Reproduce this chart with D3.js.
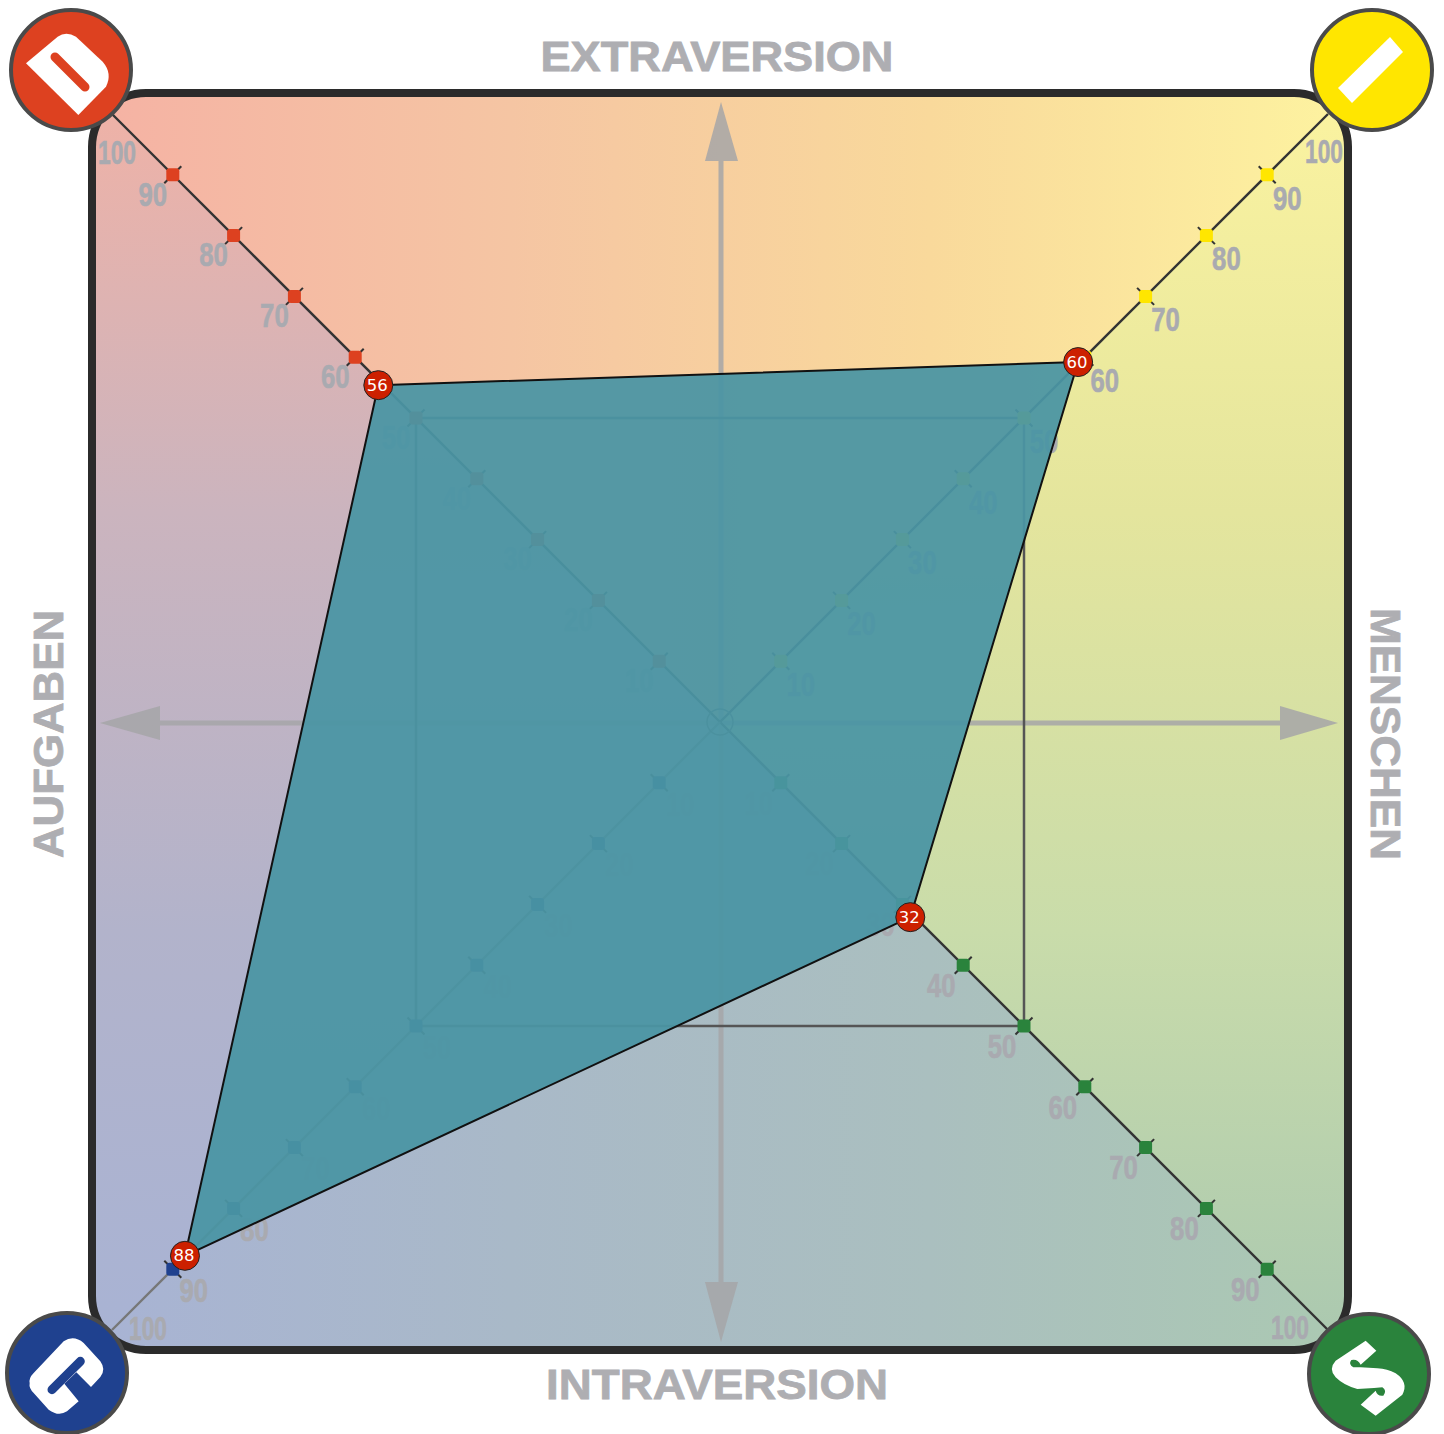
<!DOCTYPE html>
<html>
<head>
<meta charset="utf-8">
<title>Persönlichkeitsprofil</title>
<script src="https://cdn.jsdelivr.net/npm/d3@7"></script>
<style>
    html, body { margin: 0; padding: 0; background: #fff; }
    svg { display: block; }
</style>
</head>
<body>
<div id="chart"></div>
<script>
// the four corner axes
let axes = ["D", "I", "S", "G"]
let axisColors = ["#dd4120", "#ffe600", "#2a833c", "#1f418f"]
let axisLineColors = ["#333", "#333", "#333", "#777"]

// values, the points sit a bit off the diagonals
// so there is one reading per direction
let scoreValuesX = [56.2, 58.9, 31.3, 88]
let scoreValuesY = [55.4, 59.2, 32.1, 87.8]
let scoreLabels = ["56", "60", "32", "88"]

let tickValues = [10, 20, 30, 40, 50, 60, 70, 80, 90]
let tickLabels = [10, 20, 30, 40, 50, 60, 70, 80, 90, 100]
let boxValue = 50

let sideLabels = ["EXTRAVERSION", "MENSCHEN", "INTRAVERSION", "AUFGABEN"]

let width = 1444
let height = 1434
let cx = 720
let cy = 722

// direction of every axis from the centre
let dirs = { D: [-1, -1], I: [1, -1], S: [1, 1], G: [-1, 1] }
// where the tick label sits compared to its tick
let labelOffset = { D: [-20, 19], I: [20, 23], S: [-22, 20], G: [21, 21] }
let lastLabelOffset = { D: [5, 38], I: [-4, 37], S: [-38, -3], G: [36, -2] }

let r = d3.scaleLinear().domain([0, 100]).range([0, 608])
let px = (axis, v) => cx + dirs[axis][0] * r(v)
let py = (axis, v) => cy + dirs[axis][1] * r(v)

let svg = d3.select("#chart").append("svg")
    .attr("width", width)
    .attr("height", height)

let defs = svg.append("defs")

// frame
let frame = { x: 92, y: 93, w: 1256, h: 1257, rx: 54 }

let addGradient = (id, vertical, stops) => {
    let g = defs.append("linearGradient")
        .attr("id", id)
        .attr("gradientUnits", "userSpaceOnUse")
        .attr("x1", frame.x)
        .attr("y1", frame.y)
        .attr("x2", vertical ? frame.x : frame.x + frame.w)
        .attr("y2", vertical ? frame.y + frame.h : frame.y)
    stops.forEach((c, i) => {
        g.append("stop")
            .attr("offset", i / (stops.length - 1))
            .attr("stop-color", c)
    })
}

addGradient("gradTop", false, ["#f5b2a4", "#f5c5a3", "#f9d99b", "#fdf3a0"])
addGradient("gradRight", true, ["#fbf3a0", "#e4e59d", "#c9dcaa", "#aac8b0"])
addGradient("gradBottom", false, ["#a8b3d4", "#a9b9c8", "#aabfbf", "#abc9b2"])
addGradient("gradLeft", true, ["#f0b2a6", "#cbb4be", "#b2b3cb", "#a8b3d4"])

defs.append("clipPath").attr("id", "frameClip")
    .append("rect")
    .attr("x", frame.x).attr("y", frame.y)
    .attr("width", frame.w).attr("height", frame.h)
    .attr("rx", frame.rx)

let bg = svg.append("g").attr("clip-path", "url(#frameClip)")
let x0 = frame.x, x1 = frame.x + frame.w, y0 = frame.y, y1 = frame.y + frame.h
let triangles = [
    ["gradTop", [[x0, y0], [x1, y0], [cx, cy]]],
    ["gradRight", [[x1, y0], [x1, y1], [cx, cy]]],
    ["gradBottom", [[x1, y1], [x0, y1], [cx, cy]]],
    ["gradLeft", [[x0, y1], [x0, y0], [cx, cy]]]
]
bg.selectAll("polygon")
    .data(triangles)
    .enter()
    .append("polygon")
    .attr("points", d => d[1].join(" "))
    .attr("fill", d => "url(#" + d[0] + ")")
    .attr("stroke", d => "url(#" + d[0] + ")")
    .attr("stroke-width", 1)

// grey arrows
let arrowColor = "#a6a6a8"
let arrows = svg.append("g").attr("opacity", 0.85)
arrows.append("line").attr("x1", cx + 1).attr("x2", cx + 1).attr("y1", 158).attr("y2", 1284)
    .attr("stroke", arrowColor).attr("stroke-width", 5)
arrows.append("line").attr("x1", 158).attr("x2", 1282).attr("y1", cy + 1).attr("y2", cy + 1)
    .attr("stroke", arrowColor).attr("stroke-width", 5)
let heads = [
    [[721, 102], [705, 161], [738, 161]],
    [[721, 1342], [705, 1282], [738, 1282]],
    [[100, 723], [160, 706], [160, 740]],
    [[1338, 723], [1280, 706], [1280, 740]]
]
arrows.selectAll("polygon")
    .data(heads)
    .enter()
    .append("polygon")
    .attr("points", d => d.join(" "))
    .attr("fill", arrowColor)

// the 50 box
svg.append("rect")
    .attr("x", cx - r(boxValue))
    .attr("y", cy - r(boxValue))
    .attr("width", r(boxValue) * 2)
    .attr("height", r(boxValue) * 2)
    .attr("fill", "none")
    .attr("stroke", "#555")
    .attr("stroke-width", 2.5)

// axes with ticks and labels
axes.forEach((axis, i) => {
    let g = svg.append("g").attr("class", "axis-" + axis)
    g.append("line")
        .attr("x1", cx).attr("y1", cy)
        .attr("x2", px(axis, 100)).attr("y2", py(axis, 100))
        .attr("stroke", axisLineColors[i])
        .attr("stroke-width", 2.4)

    // small dark whiskers across the axis
    let nx = -dirs[axis][1], ny = dirs[axis][0]
    g.selectAll(".whisker")
        .data(tickValues)
        .enter()
        .append("line")
        .attr("class", "whisker")
        .attr("x1", d => px(axis, d) - nx * 8.5)
        .attr("y1", d => py(axis, d) - ny * 8.5)
        .attr("x2", d => px(axis, d) + nx * 8.5)
        .attr("y2", d => py(axis, d) + ny * 8.5)
        .attr("stroke", "#333")
        .attr("stroke-width", 2)

    g.selectAll(".tick")
        .data(tickValues)
        .enter()
        .append("rect")
        .attr("class", "tick")
        .attr("x", d => px(axis, d) - 6.5)
        .attr("y", d => py(axis, d) - 6.5)
        .attr("width", 13)
        .attr("height", 13)
        .attr("rx", 3)
        .attr("fill", axisColors[i])

    // no narrow font around, so squeeze the bold one
    g.selectAll(".tick-label")
        .data(tickLabels)
        .enter()
        .append("text")
        .attr("class", "tick-label")
        .attr("transform", d => {
            let off = (d == 100 ? lastLabelOffset : labelOffset)[axis]
            return "translate(" + (px(axis, d) + off[0]) + "," + (py(axis, d) + off[1]) + ") scale(" + (d == 100 ? 0.69 : 0.78) + ",1)"
        })
        .attr("text-anchor", "middle")
        .attr("dominant-baseline", "central")
        .attr("font-family", "'Liberation Sans', sans-serif")
        .attr("font-weight", "bold")
        .attr("font-size", 33)
        .attr("stroke", "#a9aab0")
        .attr("stroke-width", 0.6)
        .attr("fill", "#a9aab0")
        .text(d => d)
})

// centre ring
svg.append("circle")
    .attr("cx", cx).attr("cy", cy).attr("r", 13)
    .attr("fill", "none")
    .attr("stroke", "#555")
    .attr("stroke-width", 1.5)

// score polygon
let scorePoints = axes.map((axis, i) => [
    cx + dirs[axis][0] * r(scoreValuesX[i]),
    cy + dirs[axis][1] * r(scoreValuesY[i])
])
svg.append("path")
    .attr("d", d3.line()(scorePoints) + "Z")
    .attr("fill", "rgb(74,149,164)")
    .attr("fill-opacity", 0.94)
    .attr("stroke", "#111")
    .attr("stroke-width", 2)
    .attr("stroke-linejoin", "round")

// frame on top of the fill
svg.append("rect")
    .attr("x", frame.x).attr("y", frame.y)
    .attr("width", frame.w).attr("height", frame.h)
    .attr("rx", frame.rx)
    .attr("fill", "none")
    .attr("stroke", "#2b2b2b")
    .attr("stroke-width", 8)

// score markers
let markers = svg.selectAll(".marker")
    .data(scorePoints)
    .enter()
    .append("g")
    .attr("class", "marker")
    .attr("transform", d => "translate(" + d[0] + "," + d[1] + ")")
markers.append("circle")
    .attr("r", 14.5)
    .attr("fill", "#cc2000")
    .attr("stroke", "#222")
    .attr("stroke-width", 1)
markers.append("text")
    .attr("text-anchor", "middle")
    .attr("dominant-baseline", "central")
    .attr("x", -1)
    .attr("font-family", "'DejaVu Sans', sans-serif")
    .attr("font-size", 16.5)
    .attr("fill", "#fff")
    .text((d, i) => scoreLabels[i])

// corner badges, the paths are traced in 3x pixels around the badge centre
let badges = [
    { c: [71, 70], color: axisColors[0], org: [0, 0], blob: "M-135,-20 L-40,-100 Q-15,-118 15,-100 L95,-25 Q125,10 105,50 L22,135 Z", slot: "M-48,-39 L42,51" },
    { c: [1372, 70], color: axisColors[1], org: [0, 0], blob: "M54,-99 L93,-54 L-60,99 L-102,54 Z" },
    { c: [1369, 1374], color: axisColors[2], org: [675, 580], blob: "M665,480 L697,510 L650,552 Q640,533 622,538 Q612,550 628,560 L650,560 L700,563 Q730,565 755,578 Q795,605 775,642 L695,705 L650,672 L695,630 Q700,648 718,645 Q730,630 715,620 L690,622 L640,625 Q600,615 575,590 Q552,565 575,540 Z" },
    { c: [67, 1373], color: axisColors[3], org: [200, 580], blob: "M88,610 Q85,595 100,580 L190,485 Q220,465 250,490 L300,545 Q318,570 300,592 L272,622 L228,578 L192,612 L235,665 L200,695 Q175,712 145,690 L100,640 Q85,625 88,610 Z", slot: "M240,545 L155,630" }
]
let badge = svg.selectAll(".badge")
    .data(badges)
    .enter()
    .append("g")
    .attr("class", "badge")
    .attr("transform", d => "translate(" + d.c + ")")
badge.append("circle")
    .attr("r", 60)
    .attr("fill", d => d.color)
    .attr("stroke", "#4a4a4a")
    .attr("stroke-width", 4)
let glyph = badge.append("g")
    .attr("transform", d => "scale(" + 1 / 3 + ") translate(" + (-d.org[0]) + "," + (-d.org[1]) + ")")
glyph.append("path")
    .attr("d", d => d.blob)
    .attr("fill", "#fff")
glyph.filter(d => d.slot).append("path")
    .attr("d", d => d.slot)
    .attr("fill", "none")
    .attr("stroke", d => d.color)
    .attr("stroke-width", 27)
    .attr("stroke-linecap", "round")

// side titles
let sidePos = [[717, 56, 0], [1385, 734, 90], [717, 1384, 0], [48, 734, -90]]
let sideLengths = [353, 252, 342, 248]
svg.selectAll(".side-label")
    .data(sideLabels)
    .enter()
    .append("text")
    .attr("class", "side-label")
    .attr("transform", (d, i) => "translate(" + sidePos[i][0] + "," + sidePos[i][1] + ") rotate(" + sidePos[i][2] + ")")
    .attr("text-anchor", "middle")
    .attr("dominant-baseline", "central")
    .attr("font-family", "'Liberation Sans', Arial, sans-serif")
    .attr("font-weight", "bold")
    .attr("font-size", 42)
    .attr("textLength", (d, i) => sideLengths[i])
    .attr("lengthAdjust", "spacingAndGlyphs")
    .attr("stroke", "#aeaeb2")
    .attr("stroke-width", 0.8)
    .attr("fill", "#aeaeb2")
    .text(d => d)
</script>
</body>
</html>
